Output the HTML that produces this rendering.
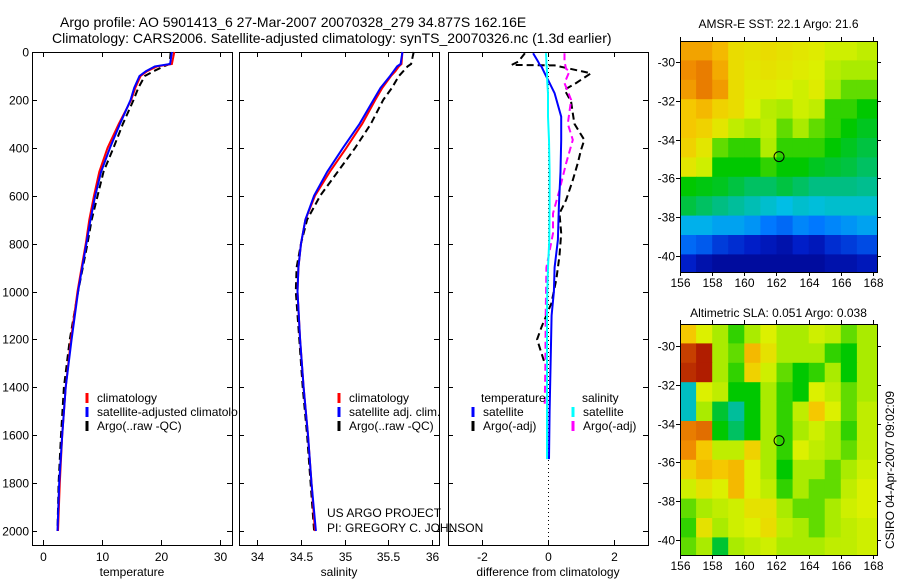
<!DOCTYPE html>
<html><head><meta charset="utf-8"><style>
body{margin:0;background:#fff;}
svg{display:block;font-family:"Liberation Sans",sans-serif;}
</style></head><body>
<svg id="fig" width="900" height="580" xmlns="http://www.w3.org/2000/svg">
<defs>
<clipPath id="c1"><rect x="0" y="0" width="238" height="580"/></clipPath>
<clipPath id="m1"><rect x="680" y="41" width="197" height="231"/></clipPath>
<clipPath id="m2"><rect x="680" y="324" width="197" height="231"/></clipPath>
</defs>
<rect width="900" height="580" fill="#fff"/>
<text x="60" y="27" font-size="14">Argo profile: AO 5901413_6 27-Mar-2007 20070328_279 34.877S 162.16E</text>
<text x="52" y="43" font-size="14">Climatology: CARS2006. Satellite-adjusted climatology: synTS_20070326.nc (1.3d earlier)</text>
<g id="layer"></g>
</svg>
<script>
// ---- data ----
const depths = [0,50,60,80,100,150,200,300,400,500,600,700,800,900,1000,1200,1400,1600,1800,2000];
const tempClim = [22.3,21.9,19.4,17.7,16.6,15.7,15.0,12.9,11.0,9.6,8.7,7.9,7.3,6.6,5.9,4.8,3.9,3.3,2.9,2.6];
const tempSat  = [21.9,21.6,19.0,17.5,16.4,15.5,14.9,13.1,11.4,9.9,8.9,8.1,7.4,6.7,6.0,4.9,3.9,3.3,2.8,2.5];
const tempArgo = [21.7,21.5,20.5,18.8,17.3,16.2,15.4,13.6,12.0,10.3,9.3,8.3,7.6,6.8,6.0,4.6,3.6,3.1,2.7,2.5];
const salClim = [35.66,35.65,35.62,35.58,35.53,35.43,35.35,35.20,35.02,34.83,34.66,34.55,34.50,34.47,34.46,34.49,34.53,34.58,34.62,34.66];
const salSat  = [35.66,35.64,35.60,35.56,35.52,35.41,35.33,35.17,34.98,34.80,34.65,34.55,34.50,34.47,34.46,34.49,34.53,34.58,34.62,34.67];
const salArgo = [35.79,35.76,35.72,35.67,35.62,35.54,35.44,35.30,35.12,34.92,34.72,34.57,34.50,34.45,34.44,34.48,34.52,34.57,34.61,34.65];
const diffDepthT = [5,40,54,60,89,130,172,270,367,500,640,784,900,1000,1100,1300,1500,1700];
const diffTSat   = [-0.45,-0.3,-0.25,-0.2,-0.1,0.05,0.2,0.4,0.4,0.38,0.33,0.3,0.2,0.18,0.11,0.08,0.05,0.03];
const diffSSat   = [-0.06,-0.05,-0.05,-0.04,-0.03,-0.02,0.0,0.0,0.03,0.05,0.05,0.04,0.0,-0.02,-0.03,-0.03,-0.03,-0.03];
const diffDepthA = [5,40,54,56,89,130,158,207,256,300,367,409,465,535,618,674,757,850,950,1050,1150,1200,1300];
const diffTArgo  = [-0.7,-0.9,-1.1,0.2,1.3,0.85,0.5,0.7,0.75,0.8,1.1,1.0,0.9,0.75,0.55,0.35,0.4,0.35,0.25,0.1,-0.2,-0.33,-0.1];
const diffDepthM = [5,40,70,80,130,200,300,367,465,576,674,757,900,1100,1300,1480];
const diffSArgo  = [0.5,0.5,0.55,0.65,0.5,0.7,0.6,0.75,0.55,0.35,0.15,0.15,-0.05,-0.07,-0.08,-0.1];
const latTicks = [-30,-32,-34,-36,-38,-40];
const lonTicks = [156,158,160,162,164,166,168];
const sstGrid = [
[.75,.75,.72,.66,.65,.66,.65,.64,.63,.60,.60,.58],
[.78,.80,.74,.66,.64,.65,.64,.63,.62,.57,.55,.55],
[.76,.80,.76,.66,.63,.63,.62,.60,.63,.55,.52,.52],
[.70,.72,.68,.66,.62,.57,.55,.60,.58,.50,.50,.48],
[.70,.68,.64,.58,.55,.58,.52,.55,.52,.50,.48,.46],
[.68,.64,.52,.50,.50,.56,.50,.50,.50,.48,.46,.44],
[.64,.60,.48,.48,.48,.50,.48,.48,.46,.45,.44,.42],
[.48,.47,.46,.44,.42,.42,.44,.42,.40,.40,.40,.39],
[.44,.42,.40,.38,.36,.34,.32,.34,.33,.34,.34,.34],
[.30,.30,.28,.28,.26,.22,.20,.24,.22,.24,.26,.28],
[.20,.18,.14,.12,.10,.08,.06,.10,.08,.12,.14,.16],
[.10,.06,.04,.04,.04,.04,.04,.04,.04,.06,.06,.08]];
const slaGrid = [
[.70,.62,.55,.50,.55,.62,.55,.55,.60,.58,.52,.55],
[.88,.92,.55,.52,.72,.65,.55,.55,.55,.50,.48,.55],
[.90,.92,.55,.50,.68,.60,.52,.48,.50,.55,.48,.55],
[.35,.62,.58,.48,.48,.55,.50,.48,.62,.58,.52,.55],
[.35,.55,.45,.38,.48,.55,.50,.58,.70,.62,.52,.58],
[.80,.82,.48,.42,.48,.55,.50,.55,.60,.55,.50,.58],
[.78,.70,.58,.58,.68,.55,.50,.62,.58,.55,.52,.58],
[.68,.72,.70,.72,.62,.55,.48,.55,.55,.52,.55,.60],
[.60,.65,.62,.72,.62,.58,.50,.55,.52,.52,.58,.62],
[.52,.55,.58,.60,.65,.65,.55,.52,.52,.55,.60,.62],
[.50,.65,.55,.60,.62,.66,.58,.55,.52,.55,.58,.60],
[.52,.55,.45,.55,.58,.60,.55,.55,.55,.58,.58,.60]];
const floatLon = 162.16, floatLat = -34.877;

// ---- helpers ----
const NS="http://www.w3.org/2000/svg";
const L=document.getElementById('layer');
function mk(tag,attrs,parent){const e=document.createElementNS(NS,tag);for(const k in attrs)e.setAttribute(k,attrs[k]);(parent||L).appendChild(e);return e;}
const yD = d => 52 + d*0.2395;
const pTop=52, pBot=545;
const xT = v => 42.7 + v*5.9;
const xS = v => 257.3 + (v-34)*87.4;
const xDf = v => 548 + v*33;
const depthTicks=[0,200,400,600,800,1000,1200,1400,1600,1800,2000];

function frame(x0,x1,name,xticks,xfn,xlabel,showY){
  const r=mk('rect',{x:x0+0.5,y:pTop+0.5,width:x1-x0,height:pBot-pTop,fill:'none',stroke:'#000','stroke-width':1});
  
  
  depthTicks.forEach(d=>{
    const y=Math.round(yD(d))+0.5;
    mk('line',{x1:x0,x2:x0+5,y1:y,y2:y,stroke:'#000'});
    mk('line',{x1:x1-5,x2:x1,y1:y,y2:y,stroke:'#000'});
    if(showY){const t=mk('text',{x:x0-3,y:y+4,'font-size':12,'text-anchor':'end'});t.textContent=d;
      
      }
  });
  xticks.forEach(v=>{
    const x=Math.round(xfn(v))+0.5;
    mk('line',{x1:x,x2:x,y1:pBot-5,y2:pBot,stroke:'#000'});
    mk('line',{x1:x,x2:x,y1:pTop,y2:pTop+5,stroke:'#000'});
    const t=mk('text',{x:x,y:561,'font-size':12,'text-anchor':'middle'});t.textContent=v;
    
    
  });
  const t=mk('text',{x:(x0+x1)/2,y:576,'font-size':12,'text-anchor':'middle'});t.textContent=xlabel;
  
  
}
function line(xs,ds,xfn,color,dash,name,w,parent){
  const p=xs.map((v,i)=>(i?'L':'M')+xfn(v).toFixed(1)+','+yD(ds[i]).toFixed(1)).join('');
  const e=mk('path',{d:p,fill:'none',stroke:color,'stroke-width':w||2,'stroke-dasharray':dash||'none'},parent);
  
  
}
function legendEntry(x,y,color,label,name){
  const e=mk('line',{x1:x,x2:x,y1:y-9,y2:y+1,stroke:color,'stroke-width':3});
  
  
  const t=mk('text',{x:x+10,y:y,'font-size':12});t.textContent=label;
  
  
  return t;
}

// Panel 1 temperature
frame(32,232,'temperature-panel',[0,10,20,30],xT,'temperature',true);
line(tempArgo,depths,xT,'#000','7 4','temp-argo-line');
line(tempClim,depths,xT,'#f00',null,'temp-climatology-line');
line(tempSat,depths,xT,'#00f',null,'temp-satellite-line');
legendEntry(87,402,'#f00','climatology','legend-climatology');
const gl=mk('g',{'clip-path':'url(#c1)'});
const l2=legendEntry(87,416,'#00f','satellite-adjusted climatology','legend-satellite-adjusted');
gl.appendChild(l2);
legendEntry(87,430,'#000','Argo(..raw -QC)','legend-argo-raw');

// Panel 2 salinity
frame(239,439,'salinity-panel',[34,34.5,35,35.5,36],xS,'salinity',false);
line(salArgo,depths,xS,'#000','7 4','sal-argo-line');
line(salClim,depths,xS,'#f00',null,'sal-climatology-line');
line(salSat,depths,xS,'#00f',null,'sal-satellite-line');
legendEntry(339,402,'#f00','climatology','legend-sal-climatology');
legendEntry(339,416,'#00f','satellite adj. clim.','legend-sal-satellite');
legendEntry(339,430,'#000','Argo(..raw -QC)','legend-sal-argo');
let t=mk('text',{x:327,y:517,'font-size':12});t.textContent='US ARGO PROJECT';


t=mk('text',{x:327,y:532,'font-size':12});t.textContent='PI: GREGORY C. JOHNSON';



// Panel 3 diff
frame(448,648,'difference-panel',[-2,0,2],xDf,'difference from climatology',false);
mk('line',{x1:548.5,x2:548.5,y1:pTop,y2:pBot,stroke:'#000','stroke-dasharray':'1 3'});
line(diffTArgo,diffDepthA,xDf,'#000','7 4','diff-temp-argo-line');
line(diffSArgo,diffDepthM,xDf,'#f0f','7 4','diff-sal-argo-line');
line(diffTSat,diffDepthT,xDf,'#00f',null,'diff-temp-satellite-line');
line(diffSSat,diffDepthT,xDf,'#0ff',null,'diff-sal-satellite-line');
t=mk('text',{x:481,y:402,'font-size':12});t.textContent='temperature';


t=mk('text',{x:582,y:402,'font-size':12});t.textContent='salinity';


legendEntry(473,416,'#00f','satellite','legend-diff-temp-satellite');
legendEntry(473,430,'#000','Argo(-adj)','legend-diff-temp-argo');
legendEntry(573,416,'#0ff','satellite','legend-diff-sal-satellite');
legendEntry(573,430,'#f0f','Argo(-adj)','legend-diff-sal-argo');

// Maps
const cmapStops=[[0,0,0,130],[0.1,0,30,200],[0.22,0,120,255],[0.32,0,190,230],[0.4,0,190,130],[0.48,0,200,0],[0.55,170,235,0],[0.62,220,240,0],[0.7,245,200,0],[0.78,240,140,0],[0.86,210,80,0],[0.93,170,20,0],[1,140,0,0]];
function cmap(v){
  v=Math.max(0,Math.min(1,v));
  for(let i=1;i<cmapStops.length;i++){
    const a=cmapStops[i-1],b=cmapStops[i];
    if(v<=b[0]){const f=(v-a[0])/(b[0]-a[0]);
      return 'rgb('+[1,2,3].map(k=>Math.round(a[k]+(b[k]-a[k])*f)).join(',')+')';}
  }
  return 'rgb(140,0,0)';
}
function map(y0,y1,grid,name,title,latY30,latY40,titleY,clip){
  const x0=680,x1=877;
  const lonX=v=>x0+(v-156)*(x1-x0)/12.25;
  const latY=v=>latY30+(v+30)*(latY40-latY30)/(-10);
  const latTop=-30+(latY30-y0)/((latY40-latY30)/10);
  const rows=grid.length, cols=grid[0].length;
  const g=mk('g',{'clip-path':'url(#'+clip+')'});
  
  
  grid.forEach((row,i)=>row.forEach((v,j)=>{
    const la0=latTop-i, la1=latTop-i-1;
    const ya=latY(la0), yb=(i==rows-1)?y1:latY(la1);
    const xa=lonX(156+j), xb=(j==cols-1)?x1:lonX(157+j);
    mk('rect',{x:xa.toFixed(1),y:ya.toFixed(1),width:(xb-xa+0.6).toFixed(1),height:(yb-ya+0.6).toFixed(1),fill:cmap(v)},g);
  }));
  const fr=mk('rect',{x:x0+0.5,y:y0+0.5,width:x1-x0,height:y1-y0,fill:'none',stroke:'#000'});
  
  
  latTicks.forEach(v=>{
    const y=Math.round(latY(v))+0.5;
    mk('line',{x1:x0,x2:x0-4,y1:y,y2:y,stroke:'#000'});
    mk('line',{x1:x1,x2:x1+4,y1:y,y2:y,stroke:'#000'});
    const tt=mk('text',{x:x0-5,y:y+4,'font-size':12,'text-anchor':'end'});tt.textContent=v;
    
    
  });
  lonTicks.forEach(v=>{
    const x=Math.round(lonX(v))+0.5;
    mk('line',{x1:x,x2:x,y1:y1,y2:y1+4,stroke:'#000'});
    mk('line',{x1:x,x2:x,y1:y0,y2:y0-4,stroke:'#000'});
    const tt=mk('text',{x:x,y:y1+15,'font-size':12,'text-anchor':'middle'});tt.textContent=v;
    
    
  });
  const c=mk('circle',{cx:lonX(floatLon),cy:latY(floatLat),r:5,fill:'none',stroke:'#000'});
  
  
  const tt=mk('text',{x:(x0+x1)/2,y:titleY,'font-size':12,'text-anchor':'middle'});tt.textContent=title;
  
  
}
map(41,272,sstGrid,'sst-map','AMSR-E SST: 22.1 Argo: 21.6',62,256,28,'m1');
map(324,555,slaGrid,'sla-map','Altimetric SLA: 0.051 Argo: 0.038',346,540,317,'m2');
t=mk('text',{x:0,y:0,'font-size':12,'text-anchor':'middle',transform:'translate(894,470) rotate(-90)'});
t.textContent='CSIRO 04-Apr-2007 09:02:09';


</script>
</body></html>
